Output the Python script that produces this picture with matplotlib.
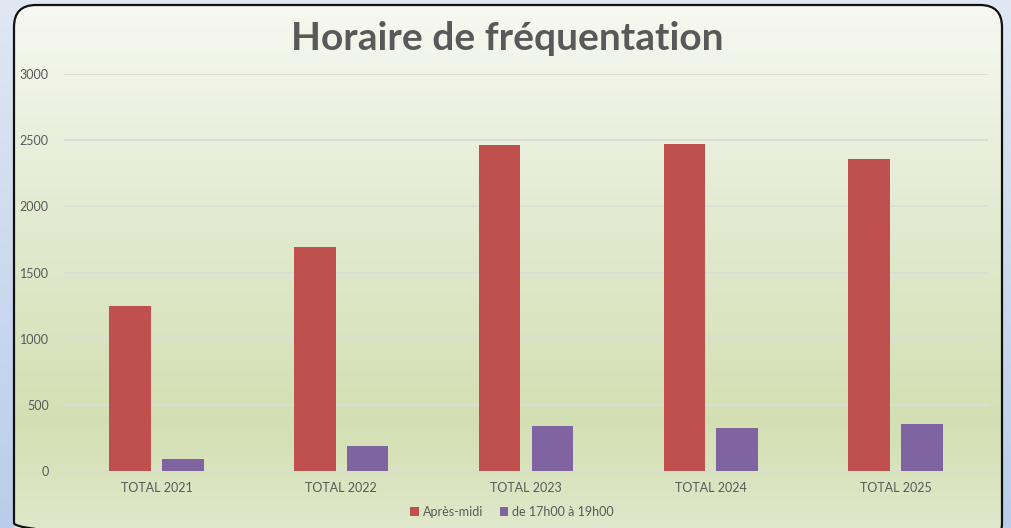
import numpy as np
import matplotlib
matplotlib.use("Agg")
import matplotlib.pyplot as plt
from matplotlib.patches import FancyBboxPatch
from matplotlib.colors import LinearSegmentedColormap

categories = ["TOTAL 2021", "TOTAL 2022", "TOTAL 2023", "TOTAL 2024", "TOTAL 2025"]
apres_midi = [1250, 1690, 2465, 2470, 2358]
soir = [90, 190, 337, 325, 357]
series_names = ["Après-midi", "de 17h00 à 19h00"]
title = "Horaire de fréquentation"
y_ticks = [0, 500, 1000, 1500, 2000, 2500, 3000]

plt.rcParams['font.family'] = ['Lato', 'DejaVu Sans']
TXT = "#595959"
RED = "#C0504D"
PURPLE = "#8064A2"

W, H = 1011, 528
fig = plt.figure(figsize=(W / 100, H / 100), dpi=100)

# background
bg = fig.add_axes([0, 0, 1, 1])
bg.set_xlim(0, W)
bg.set_ylim(H, 0)
bg.axis("off")
outer = LinearSegmentedColormap.from_list("o", ["#DFE8F3", "#CCDAEE", "#B9CDEA"])
grad = np.linspace(0, 1, 256).reshape(-1, 1)
bg.imshow(grad, cmap=outer, extent=[0, W, H, 0], aspect="auto", zorder=0)
inner = LinearSegmentedColormap.from_list(
    "i", [(0, "#F7F8F1"), (0.45, "#E1E9CD"), (0.8, "#D3DFB3"), (1.0, "#DFE8CA")])
box = FancyBboxPatch((14, 5), 988, 540, boxstyle="round,pad=0,rounding_size=22",
                     facecolor="none", edgecolor="#111111", linewidth=1.6, zorder=3)
bg.add_patch(box)
im = bg.imshow(grad, cmap=inner, extent=[14, 1002, 528, 5], aspect="auto", zorder=1)
im.set_clip_path(box)

# main chart
left, right, top, bottom = 64, 988, 74, 471
ax = fig.add_axes([left / W, 1 - bottom / H, (right - left) / W, (bottom - top) / H])
ax.patch.set_alpha(0)
x = np.arange(len(categories))
bw = 0.225
off = 0.143
ax.bar(x - off, apres_midi, bw, color=RED, label=series_names[0], zorder=3)
ax.bar(x + off, soir, bw, color=PURPLE, label=series_names[1], zorder=3)
ax.set_xlim(-0.5, len(categories) - 0.5)
ax.set_ylim(0, 3000)
ax.set_yticks(y_ticks)
ax.set_xticks(x)
ax.set_xticklabels(categories)
ax.grid(axis="y", color="#DCDDD6", linewidth=1.4, zorder=0)
for s in ax.spines.values():
    s.set_visible(False)
ax.tick_params(axis="both", length=0, colors=TXT, labelsize=9)
ax.tick_params(axis="y", pad=11)
ax.tick_params(axis="x", pad=8)

fig.text(507 / W, 1 - 38 / H, title, ha="center", va="center", fontsize=28,
         fontweight="bold", color=TXT)

leg = fig.legend(loc="center", bbox_to_anchor=(512 / W, 1 - 512 / H), ncol=2,
                 frameon=False, fontsize=9, handlelength=0.7, handleheight=0.7,
                 handletextpad=0.3, columnspacing=1.3, labelcolor=TXT)

fig.savefig("out.png", dpi=100)
